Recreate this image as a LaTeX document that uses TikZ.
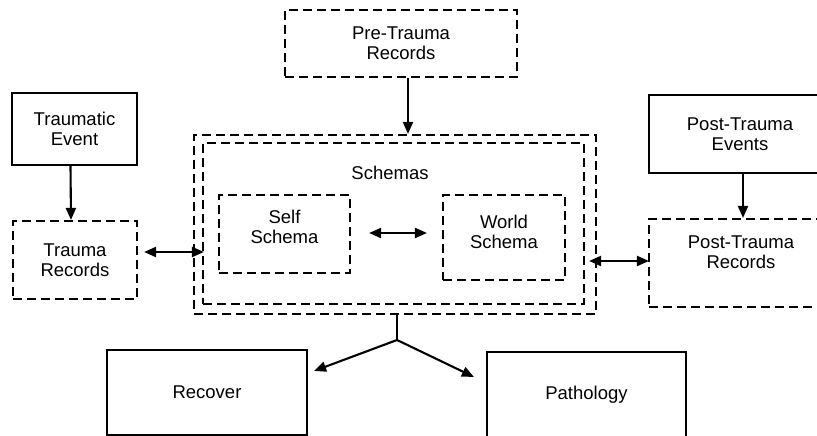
\documentclass[tikz,border=0pt]{standalone}
\usepackage{fontspec}
\setmainfont{Liberation Sans}
\usetikzlibrary{arrows.meta,calc}
\begin{document}
\begin{tikzpicture}[x = 1pt, y = -1pt,
   every node/.style = {font=\fontsize{18.5}{20}\selectfont},
   box/.style = {draw, line width=2.1pt, align=center, inner sep=0pt},
   dbox/.style = {box, dash pattern=on 9pt off 5pt},
   arr/.style = {line width=2.1pt, -{Triangle[length=12pt,width=10pt]}},
   darr/.style = {line width=2.1pt, {Triangle[length=12pt,width=10pt]}-{Triangle[length=12pt,width=10pt]}}]
   \useasboundingbox (0,0) rectangle (817,436);
   \node[dbox, minimum width=232pt, minimum height=67pt] (pre) at (401,43.5) {Pre-Trauma\\Records};
   \node[dbox, minimum width=402pt, minimum height=179pt] (outer) at (395,224.5) {};
   \node[dbox, minimum width=381pt, minimum height=161pt] (inner) at (393.5,223.5) {};
   \node (schemas) at (390,173) {Schemas};
   \node[dbox, minimum width=131pt, minimum height=78pt, text depth=14pt] (self) at (284.5,234) {Self\\Schema};
   \node[dbox, minimum width=122pt, minimum height=85pt, text depth=12pt] (world) at (504,237.5) {World\\Schema};
   \node[box, minimum width=125pt, minimum height=72pt] (traumatic) at (74.5,129) {Traumatic\\Event};
   \node[dbox, minimum width=124pt, minimum height=78pt] (trecords) at (75,260) {Trauma\\Records};
   \node[box, minimum width=182pt, minimum height=78pt] (postevents) at (740,134) {Post-Trauma\\Events};
   \node[dbox, minimum width=184pt, minimum height=88pt, text depth=22pt] (postrecords) at (741,263) {Post-Trauma\\Records};
   \node[box, minimum width=200pt, minimum height=85pt] (recover) at (207,392.5) {Recover};
   \node[box, minimum width=199pt, minimum height=86pt] (pathology) at (586.5,395) {Pathology};
   \coordinate (fork) at (397,340);

   \draw[arr] ([xshift=7pt]pre.south) -- ([xshift=7pt]pre.south |- outer.north);
   \draw[arr] ([xshift=-4pt]traumatic.south) -- ([xshift=-4pt]trecords.north);
   \draw[arr] ([xshift=3pt]postevents.south) -- ([xshift=3pt]postevents.south |- postrecords.north);
   \draw[darr] ($(trecords.east)+(6,-8)$) -- ($(inner.west |- trecords.east)+(2,-8)$);
   \draw[darr] ($(self.east)+(18,-1)$) -- ($(world.west |- self.east)+(-15,-1)$);
   \draw[darr] ($(inner.east |- postrecords.west)+(4,-2)$) -- ($(postrecords.west)+(1,-2)$);
   \draw[line width=2.1pt] (outer.south -| fork) -- (fork);
   \draw[arr] (fork) -- ($(recover.north east)+(6,22)$);
   \draw[arr] (fork) -- ($(pathology.north west)+(-12,26)$);
\end{tikzpicture}
\end{document}
